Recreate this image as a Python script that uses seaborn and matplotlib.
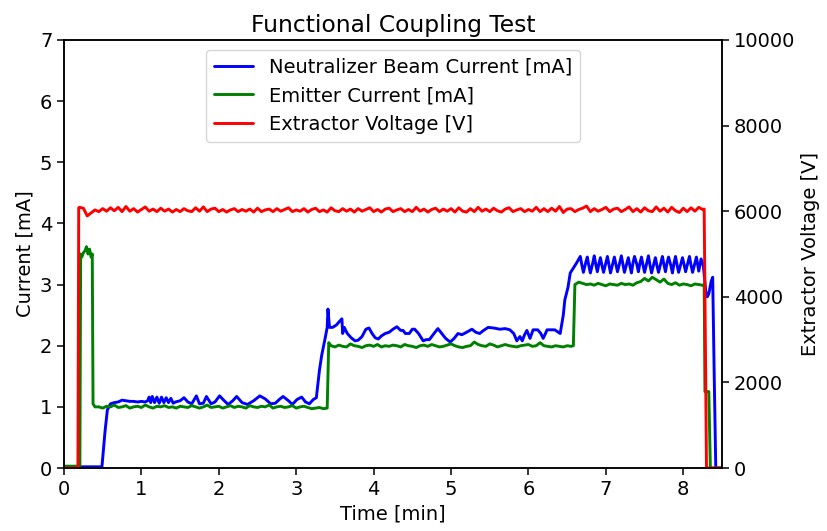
"""
Functional coupling test: beam / emitter current and extractor voltage vs time
"""

import numpy as np
import pandas as pd
import seaborn as sns
import matplotlib

matplotlib.use("Agg")
import matplotlib.pyplot as plt

# ---- data ----
# neutralizer beam current [mA], (time [min], value)
beam_pts = [
    (0.00, 0.02), (0.49, 0.02), (0.53, 0.60), (0.56, 0.95), (0.60, 1.05),
    (0.65, 1.07), (0.70, 1.08), (0.75, 1.11), (0.80, 1.10), (0.85, 1.09),
    (0.90, 1.09), (0.95, 1.08), (1.00, 1.09), (1.05, 1.08), (1.08, 1.10),
    (1.10, 1.16), (1.12, 1.07), (1.14, 1.17), (1.17, 1.07), (1.20, 1.16),
    (1.23, 1.06), (1.26, 1.16), (1.29, 1.07), (1.32, 1.15), (1.35, 1.07),
    (1.38, 1.14), (1.41, 1.06), (1.44, 1.08), (1.50, 1.10), (1.55, 1.15),
    (1.60, 1.08), (1.65, 1.05), (1.71, 1.18), (1.75, 1.05), (1.80, 1.06),
    (1.84, 1.17), (1.90, 1.05), (1.95, 1.08), (2.01, 1.18), (2.07, 1.10),
    (2.12, 1.04), (2.18, 1.10), (2.23, 1.17), (2.30, 1.07), (2.37, 1.04),
    (2.45, 1.10), (2.53, 1.18), (2.60, 1.13), (2.67, 1.05), (2.73, 1.06),
    (2.78, 1.12), (2.83, 1.17), (2.90, 1.10), (2.95, 1.04), (3.01, 1.12),
    (3.07, 1.16), (3.12, 1.08), (3.17, 1.05), (3.22, 1.12), (3.26, 1.15),
    (3.30, 1.60), (3.33, 1.85), (3.37, 2.10), (3.40, 2.30), (3.41, 2.60),
    (3.43, 2.30), (3.47, 2.30), (3.52, 2.34), (3.56, 2.40), (3.59, 2.44),
    (3.60, 2.20), (3.62, 2.30), (3.66, 2.20), (3.71, 2.13), (3.76, 2.08),
    (3.80, 2.09), (3.85, 2.15), (3.90, 2.27), (3.94, 2.29), (3.98, 2.20),
    (4.02, 2.13), (4.06, 2.11), (4.10, 2.16), (4.15, 2.20), (4.20, 2.22),
    (4.25, 2.27), (4.30, 2.31), (4.35, 2.25), (4.38, 2.25), (4.41, 2.20),
    (4.46, 2.20), (4.50, 2.27), (4.53, 2.27), (4.58, 2.20), (4.64, 2.08),
    (4.68, 2.10), (4.72, 2.10), (4.78, 2.20), (4.83, 2.28), (4.88, 2.20),
    (4.93, 2.12), (4.99, 2.06), (5.04, 2.12), (5.09, 2.20), (5.14, 2.18),
    (5.20, 2.22), (5.27, 2.27), (5.32, 2.22), (5.37, 2.20), (5.42, 2.25),
    (5.48, 2.30), (5.55, 2.29), (5.63, 2.27), (5.70, 2.28), (5.76, 2.26),
    (5.81, 2.20), (5.85, 2.08), (5.89, 2.15), (5.92, 2.08), (5.95, 2.18),
    (5.98, 2.25), (6.02, 2.12), (6.06, 2.26), (6.12, 2.26), (6.16, 2.20),
    (6.19, 2.12), (6.22, 2.20), (6.24, 2.26), (6.34, 2.26), (6.41, 2.20),
    (6.45, 2.50), (6.47, 2.75), (6.51, 2.95), (6.54, 3.19), (6.58, 3.27),
    (6.62, 3.35), (6.67, 3.46), (6.69, 3.32), (6.71, 3.20), (6.74, 3.36),
    (6.76, 3.45), (6.78, 3.31), (6.80, 3.19), (6.83, 3.35), (6.85, 3.47),
    (6.87, 3.33), (6.89, 3.21), (6.91, 3.34), (6.93, 3.44), (6.95, 3.31),
    (6.97, 3.20), (7.00, 3.36), (7.02, 3.46), (7.04, 3.32), (7.06, 3.19),
    (7.09, 3.35), (7.11, 3.45), (7.13, 3.33), (7.15, 3.21), (7.18, 3.36),
    (7.20, 3.47), (7.22, 3.33), (7.24, 3.20), (7.27, 3.34), (7.29, 3.44),
    (7.31, 3.31), (7.33, 3.19), (7.35, 3.35), (7.37, 3.46), (7.40, 3.33),
    (7.42, 3.21), (7.44, 3.35), (7.46, 3.45), (7.48, 3.32), (7.50, 3.20),
    (7.53, 3.36), (7.55, 3.47), (7.57, 3.32), (7.59, 3.19), (7.62, 3.34),
    (7.64, 3.44), (7.66, 3.31), (7.68, 3.20), (7.71, 3.35), (7.73, 3.46),
    (7.75, 3.33), (7.77, 3.21), (7.79, 3.35), (7.81, 3.45), (7.84, 3.31),
    (7.86, 3.19), (7.88, 3.35), (7.90, 3.46), (7.92, 3.32), (7.94, 3.20),
    (7.97, 3.34), (7.99, 3.44), (8.01, 3.33), (8.03, 3.21), (8.06, 3.36),
    (8.08, 3.46), (8.10, 3.32), (8.12, 3.20), (8.15, 3.35), (8.17, 3.45),
    (8.20, 3.22), (8.23, 3.42), (8.26, 3.30), (8.29, 2.90),
    (8.31, 2.80), (8.33, 2.85), (8.36, 3.05), (8.38, 3.12), (8.40, 1.50),
    (8.42, 0.00), (8.50, 0.00),
]

# emitter current [mA]
emitter_start = [
    (0.000, 0.03), (0.205, 0.03), (0.215, 3.50), (0.23, 3.45), (0.25, 3.52),
    (0.27, 3.55), (0.29, 3.62), (0.31, 3.50), (0.33, 3.58), (0.35, 3.45),
    (0.365, 3.50), (0.375, 1.05), (0.40, 1.00),
]
# 0.45 ... 3.40 every 0.05 min
emitter_low = [
    1.00, 0.98, 1.01, 1.00, 1.03, 0.99, 1.00, 1.02, 0.98, 1.00,
    1.01, 0.99, 1.03, 1.00, 0.98, 1.01, 1.00, 1.02, 0.99, 1.00,
    0.98, 1.01, 1.00, 0.99, 1.02, 1.00, 0.98, 1.00, 1.03, 0.99,
    1.00, 1.01, 0.98, 1.00, 1.02, 0.99, 1.01, 1.00, 0.98, 1.02,
    1.00, 0.99, 1.01, 1.00, 1.03, 0.98, 1.00, 1.01, 0.99, 1.00,
    1.02, 0.98, 1.00, 1.01, 0.99, 0.97, 0.98, 0.99, 0.97, 0.98,
]
# 3.45 ... 6.55 every 0.05 min
emitter_mid = [
    2.00, 1.98, 2.01, 1.99, 1.98, 2.03, 2.00, 1.99, 1.97, 2.00,
    2.01, 1.99, 2.02, 1.98, 2.00, 1.99, 2.01, 2.00, 1.98, 2.02,
    2.00, 1.99, 1.97, 2.00, 2.01, 1.99, 2.02, 2.00, 1.98, 1.99,
    2.01, 2.03, 2.00, 1.98, 1.97, 1.99, 2.00, 2.06, 2.02, 2.00,
    1.99, 2.03, 2.01, 1.98, 2.00, 2.02, 2.00, 1.99, 1.98, 2.00,
    2.01, 2.02, 1.99, 2.00, 2.05, 2.00, 1.99, 1.98, 2.00, 1.99,
    1.98, 2.00, 1.99,
]
# 6.65 ... 8.25 every 0.05 min
emitter_high = [
    3.04, 3.02, 3.00, 3.01, 2.99, 3.02, 3.00, 2.98, 3.01, 3.00,
    2.99, 3.02, 3.00, 3.01, 2.99, 3.03, 3.05, 3.10, 3.06, 3.12,
    3.08, 3.04, 3.09, 3.02, 3.00, 3.03, 2.99, 3.01, 3.00, 2.98,
    3.01, 3.00, 2.99,
]
emitter_steps = [(3.42, 2.05), (6.58, 2.00), (6.60, 3.00)]
emitter_end = [(8.27, 3.00), (8.28, 1.25), (8.33, 1.25), (8.35, 0.00), (8.50, 0.00)]

# extractor voltage [V]
extractor_start = [(0.00, 0.0), (0.18, 0.0), (0.19, 6080.0)]
# 0.20 ... 8.25 every 0.05 min
extractor_flat = [
    6090, 6070, 5890, 5960, 6030, 5990, 6060, 6000, 6080, 6010,
    6090, 5990, 6110, 6000, 6060, 5980, 6040, 6100, 6000, 6050,
    5990, 6070, 6000, 6050, 5980, 6040, 5990, 6060, 6010, 5990,
    6080, 6000, 6100, 5990, 6050, 6070, 5990, 6040, 5980, 6030,
    6060, 5990, 6040, 6000, 6050, 5980, 6070, 5990, 6030, 6050,
    5990, 6060, 6000, 6040, 6080, 5990, 6030, 6000, 6060, 5980,
    6040, 6070, 5990, 6030, 5980, 6080, 6010, 5990, 6060, 6000,
    6050, 5980, 6060, 6000, 6040, 6080, 5990, 6040, 5980, 6050,
    6070, 5990, 6030, 6060, 5990, 6040, 5990, 6090, 6000, 6050,
    5980, 6040, 6070, 5990, 6050, 6000, 6060, 5980, 6080, 6000,
    5980, 6060, 5990, 6090, 6000, 6050, 5990, 6070, 6010, 5980,
    6050, 6080, 5990, 6030, 6060, 5990, 6040, 6000, 6090, 5990,
    6060, 5990, 6070, 6000, 6110, 5970, 6050, 6060, 5990, 6040,
    6070, 6120, 5990, 6060, 6000, 6040, 6090, 5990, 6050, 6070,
    5990, 6040, 6100, 5990, 6060, 5980, 6080, 6010, 5990, 6100,
    6000, 6070, 5980, 6090, 6010, 5970, 6070, 5990, 6080, 6000,
    6090, 6040,
]
extractor_end = [(8.27, 6050.0), (8.30, 0.0), (8.50, 0.0)]

labels = ["Neutralizer Beam Current [mA]", "Emitter Current [mA]", "Extractor Voltage [V]"]
colors = ["#0000ff", "#008000", "#ff0000"]


def grid(start, values):
    return [(round(start + 0.05 * i, 2), v) for i, v in enumerate(values)]


def to_df(pts):
    return pd.DataFrame(pts, columns=["t", "v"])


beam_df = to_df(beam_pts)
emitter_df = to_df(
    emitter_start
    + grid(0.45, emitter_low)
    + [emitter_steps[0]]
    + grid(3.45, emitter_mid)
    + emitter_steps[1:]
    + grid(6.65, emitter_high)
    + emitter_end
)
extractor_df = to_df(extractor_start + grid(0.20, extractor_flat) + extractor_end)

# ---- plot ----
sns.set_style("ticks")
plt.rcParams["font.family"] = ["DejaVu Sans"]
for key in ["axes.edgecolor", "xtick.color", "ytick.color", "text.color", "axes.labelcolor"]:
    plt.rcParams[key] = "black"

fig, ax = plt.subplots(figsize=(8.27, 5.31), dpi=100)
fig.subplots_adjust(left=0.0774, right=0.873, top=0.9247, bottom=0.1186)
ax2 = ax.twinx()

lw = 2.1
sns.lineplot(data=beam_df, x="t", y="v", color=colors[0], lw=lw, ax=ax,
             sort=False, estimator=None, legend=False)
sns.lineplot(data=emitter_df, x="t", y="v", color=colors[1], lw=lw, ax=ax,
             sort=False, estimator=None, legend=False)
sns.lineplot(data=extractor_df, x="t", y="v", color=colors[2], lw=lw, ax=ax2,
             sort=False, estimator=None, legend=False)

ax.set_xlim(0, 8.5)
ax.set_ylim(0, 7)
ax2.set_ylim(0, 10000)
ax2.set_yticks([0, 2000, 4000, 6000, 8000, 10000])

fs = 14
ax.set_xlabel("Time [min]", fontsize=fs)
ax.set_ylabel("Current [mA]", fontsize=fs)
ax2.set_ylabel("Extractor Voltage [V]", fontsize=fs)
ax.set_title("Functional Coupling Test", fontsize=16.8)

for a in (ax, ax2):
    a.tick_params(labelsize=fs, width=1.1, length=4.9, direction="out")
    for s in a.spines.values():
        s.set_linewidth(1.1)
        s.set_color("black")

handles = ax.get_lines() + ax2.get_lines()
ax2.legend(handles, labels, loc="upper center", fontsize=fs,
           frameon=True, framealpha=0.8, edgecolor="0.8", fancybox=True)

fig.savefig("out.png", dpi=100)
